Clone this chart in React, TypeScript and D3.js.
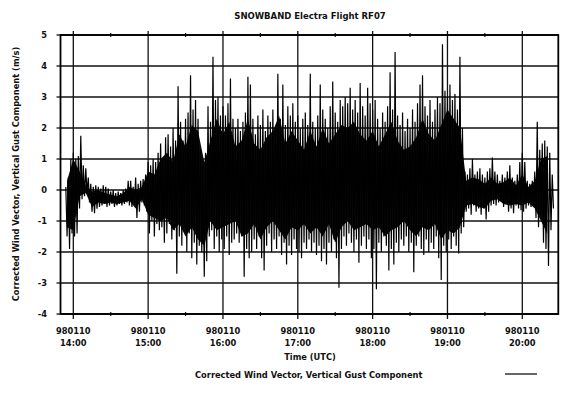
import React, { useEffect, useRef } from "react";
import * as d3 from "d3";

const chartTitle = "SNOWBAND Electra Flight RF07";
const yTitle = "Corrected Wind Vector, Vertical Gust Component (m/s)";
const xTitle = "Time (UTC)";
const seriesName = "Corrected Wind Vector, Vertical Gust Component";
const dateLabel = "980110";
const hourTicks = ["14:00", "15:00", "16:00", "17:00", "18:00", "19:00", "20:00"];
const halfHourTicks = ["13:30", "14:30", "15:30", "16:30", "17:30", "18:30", "19:30", "20:30"];
const yTicks = [-4, -3, -2, -1, 0, 1, 2, 3, 4, 5];
const timeWindow = ["13:49:44", "20:28:52"];

// samples every 2 minutes from 13:54, max / min of the gust trace in each
const sampleStart = "13:54";
const sampleStepMin = 2;

const gustHigh = [
  0.1, 0.4, 1.0,
  // 14:00
  1.2, 1.0, 1.1, 1.75, 0.8, 0.7, 0.4, 0.2, 0.1, 0.15, 0.1, 0.05, 0.15, 0.1, 0.05,
  -0.05, 0.0, -0.1, -0.05, -0.1, 0.0, 0.05, 0.3, 0.3, 0.1, 0.4, 0.2, 0.3, 0.35, 0.5,
  // 15:00
  0.9, 0.8, 1.0, 0.9, 1.2, 1.5, 1.0, 1.7, 1.8, 1.4, 2.0, 1.6, 3.35, 2.2, 1.6,
  2.3, 2.5, 3.7, 2.6, 2.9, 2.3, 1.3, 0.8, 1.2, 2.7, 2.2, 4.3, 2.9, 3.0, 2.4,
  // 16:00
  2.7, 2.4, 2.8, 3.6, 2.3, 2.0, 2.3, 1.9, 2.2, 2.5, 3.65, 3.4, 2.3, 1.8, 2.4,
  2.1, 2.6, 1.9, 2.4, 2.2, 2.6, 2.0, 3.75, 2.3, 3.4, 2.1, 2.7, 2.4, 2.8, 2.2,
  // 17:00
  2.4, 2.0, 2.3, 2.5, 2.1, 3.75, 2.2, 2.0, 2.4, 3.4, 2.6, 2.3, 2.0, 2.7, 3.5,
  2.5, 2.2, 2.9, 2.7, 3.0, 2.8, 3.3, 2.6, 2.9, 2.5, 3.45, 2.7, 2.4, 3.3, 2.8,
  // 18:00
  2.6, 2.9, 2.3, 2.0, 2.5, 2.2, 2.7, 3.8, 2.6, 4.45, 2.4, 2.1, 2.5, 1.9, 2.3,
  2.0, 2.6, 2.2, 2.8, 3.4, 3.7, 2.7, 2.4, 2.9, 2.2, 2.6, 3.0, 2.8, 4.7, 3.2,
  // 19:00
  3.0, 3.4, 2.9, 3.1, 2.6, 4.3, 2.0, 0.6, 0.5, 0.7, 1.0, 0.5, 0.6, 0.7, 0.5,
  0.4, 0.6, 0.7, 1.05, 0.6, 0.5, 0.3, 0.5, 0.4, 0.6, 0.8, 0.4, 0.3, 0.5, 0.9,
  // 20:00
  1.2, 0.9, 0.3, 0.2, 0.3, 0.6, 2.2, 1.3, 1.5, 1.6, 1.4, 1.2, 0.5,
];

const gustLow = [
  -1.5, -1.9, -1.4,
  // 14:00
  -1.5, -1.4, -0.6, -0.3, -0.2, -0.1, -0.4, -0.7, -0.75, -0.6, -0.55, -0.5, -0.45, -0.55, -0.5,
  -0.45, -0.55, -0.5, -0.45, -0.5, -0.45, -0.4, -0.5, -0.55, -0.4, -0.9, -0.7, -0.4, -0.5, -0.7,
  // 15:00
  -1.4, -1.0, -1.5, -1.1, -1.3, -1.2, -1.7, -1.4, -1.1, -1.6, -1.3, -2.7, -1.5, -1.8, -1.2,
  -2.0, -1.4, -2.2, -1.7, -2.4, -1.8, -2.0, -2.8, -2.3, -1.5, -1.3, -1.9, -1.5, -2.0, -1.6,
  // 16:00
  -1.9, -1.5, -2.1, -1.7, -1.6, -1.4, -1.7, -1.5, -2.8, -1.9, -2.2, -2.0, -1.6, -1.9, -1.5,
  -2.2, -2.6, -1.8, -1.4, -2.0, -1.6, -1.9, -1.5, -2.1, -1.7, -2.4, -1.8, -2.1, -1.6, -1.9,
  // 17:00
  -2.0, -2.2, -1.7, -1.9, -1.6, -2.0, -1.7, -2.1, -1.8, -2.3, -1.9, -2.4, -1.7, -2.0, -1.6,
  -2.2, -3.15, -1.9, -1.5, -1.8, -1.4, -1.7, -2.0, -1.6, -2.35, -1.8, -1.5, -1.9, -1.6, -2.2,
  // 18:00
  -1.9, -3.2, -1.7, -2.0, -1.5, -1.8, -2.6, -1.9, -2.4, -1.7, -2.0, -1.6, -1.8, -1.5, -2.0,
  -1.7, -2.65, -1.8, -1.5, -1.9, -2.1, -1.6, -2.0, -1.7, -1.9, -1.5, -2.2, -2.9, -1.8, -2.0,
  // 19:00
  -1.6, -1.9, -1.5, -1.8, -2.05, -1.4, -1.2, -0.7, -0.6, -0.8, -0.5, -0.7, -0.6, -0.8, -0.6,
  -0.95, -0.7, -0.5, -0.45, -0.5, -0.4, -0.35, -0.55, -0.4, -0.7, -0.6, -0.75, -0.5, -0.6, -0.65,
  // 20:00
  -0.7, -0.6, -0.5, -0.55, -0.5, -0.9, -1.2, -0.8, -1.7, -1.9, -2.45, -1.3, -0.6,
];

// solid (fully inked) part of the trace, every 5 minutes from 13:55
const coreStart = "13:55";
const coreStepMin = 5;
const coreTop = [
  0.3, 1.0, 0.6, 0.15, -0.05, 0.0, -0.1, -0.15, -0.2, -0.1, 0.1, 0.0, 0.1,
  // 15:00
  0.6, 0.5, 1.0, 1.2, 0.9, 1.8, 1.4, 2.1, 1.9, 0.9, 1.6, 2.3,
  // 16:00
  1.8, 2.2, 1.4, 1.6, 2.3, 1.5, 1.3, 1.7, 1.9, 2.4, 1.5, 1.9,
  // 17:00
  1.6, 1.3, 1.9, 1.4, 2.0, 1.5, 1.8, 2.1, 2.0, 2.2, 1.8, 1.6,
  // 18:00
  1.9, 1.4, 1.8, 2.2, 1.6, 1.3, 1.4, 1.7, 2.3, 1.8, 1.6, 2.1,
  // 19:00
  2.6, 2.3, 2.0, 0.3, 0.4, 0.35, 0.2, 0.4, 0.2, 0.25, 0.4, 0.15,
  // 20:00
  0.5, 0.1, 0.3, 1.0, 1.1,
];
const coreBottom = [
  -1.2, -1.3, -0.2, -0.1, -0.55, -0.4, -0.45, -0.4, -0.45, -0.4, -0.35, -0.6, -0.3,
  // 15:00
  -0.8, -0.9, -1.0, -0.9, -1.3, -1.1, -1.5, -1.2, -1.6, -1.8, -1.0, -1.3,
  // 16:00
  -1.2, -1.1, -1.0, -1.5, -1.4, -1.1, -1.6, -1.2, -1.0, -1.3, -1.6, -1.2,
  // 17:00
  -1.3, -1.1, -1.4, -1.2, -1.5, -1.1, -1.7, -1.2, -1.0, -1.3, -1.2, -1.1,
  // 18:00
  -1.3, -1.2, -1.5, -1.3, -1.2, -1.0, -1.3, -1.5, -1.2, -1.3, -1.1, -1.6,
  // 19:00
  -1.3, -1.4, -1.2, -0.5, -0.45, -0.55, -0.6, -0.35, -0.3, -0.45, -0.5, -0.45,
  // 20:00
  -0.5, -0.4, -0.6, -1.0, -1.4,
];

const FONT = "'DejaVu Sans', sans-serif";

export default function App() {
  const ref = useRef<SVGSVGElement>(null);

  useEffect(() => {
    const svg = d3.select(ref.current);
    svg.selectAll("*").remove();
    const width = 563;
    const height = 394;
    const plot = { left: 60.5, right: 558.3, top: 35, bottom: 314 };
    const hm = d3.timeParse("%H:%M");
    const hms = d3.timeParse("%H:%M:%S");

    const x = d3.scaleTime().domain(timeWindow.map((t) => hms(t))).range([plot.left, plot.right]);
    const y = d3.scaleLinear().domain([-4, 5]).range([plot.bottom, plot.top]);

    svg.append("rect").attr("width", width).attr("height", height).attr("fill", "#fff");

    // grid
    svg.append("g").selectAll("line").data(yTicks).join("line")
      .attr("x1", plot.left).attr("x2", plot.right)
      .attr("y1", (d) => y(d)).attr("y2", (d) => y(d))
      .attr("stroke", "#111").attr("stroke-width", 1.3);
    svg.append("g").selectAll("line").data(hourTicks).join("line")
      .attr("x1", (d) => x(hm(d))).attr("x2", (d) => x(hm(d)))
      .attr("y1", plot.top - 4).attr("y2", plot.bottom + 5)
      .attr("stroke", "#111").attr("stroke-width", 1.3);
    const halves = halfHourTicks.filter((d) => {
      const px = x(hm(d));
      return px > plot.left && px < plot.right;
    });
    [plot.top, plot.bottom].forEach((yy) => {
      svg.append("g").selectAll("line").data(halves).join("line")
        .attr("x1", (d) => x(hm(d))).attr("x2", (d) => x(hm(d)))
        .attr("y1", yy - 2).attr("y2", yy + 2)
        .attr("stroke", "#111").attr("stroke-width", 1.2);
    });
    svg.append("g").selectAll("line").data(yTicks).join("line")
      .attr("x1", plot.left - 4).attr("x2", plot.left)
      .attr("y1", (d) => y(d)).attr("y2", (d) => y(d))
      .attr("stroke", "#111").attr("stroke-width", 1.3);

    // frame
    svg.append("rect")
      .attr("x", plot.left).attr("y", plot.top)
      .attr("width", plot.right - plot.left).attr("height", plot.bottom - plot.top)
      .attr("fill", "none").attr("stroke", "#000").attr("stroke-width", 1.8);

    // solid core
    const c0 = hm(coreStart) as Date;
    const core = coreTop.map((v, i) => ({
      t: d3.timeMinute.offset(c0, i * coreStepMin), top: v, bot: coreBottom[i],
    }));
    const area = d3.area<{ t: Date; top: number; bot: number }>()
      .x((d) => x(d.t)).y0((d) => y(d.bot)).y1((d) => y(d.top));
    svg.append("path").attr("d", area(core)).attr("fill", "#0a0a0a");

    // trace: alternate max and min of each sample window
    const start = hm(sampleStart) as Date;
    const pts: [Date, number][] = [];
    gustHigh.forEach((h, i) => {
      const t0 = d3.timeMinute.offset(start, i * sampleStepMin);
      pts.push([t0, h]);
      pts.push([d3.timeSecond.offset(t0, sampleStepMin * 30), gustLow[i]]);
    });
    const line = d3.line<[Date, number]>().x((d) => x(d[0])).y((d) => y(d[1]));
    svg.append("path").attr("d", line(pts)).attr("fill", "none")
      .attr("stroke", "#000").attr("stroke-width", 1.2).attr("stroke-linejoin", "miter");

    const txt = (sel: any, size: number) =>
      sel.attr("font-family", FONT).attr("font-weight", "bold").attr("font-size", size).attr("fill", "#111");

    // y tick labels
    txt(svg.append("g").selectAll("text").data(yTicks).join("text")
      .attr("x", 47).attr("y", (d) => y(d)).attr("dy", "0.36em")
      .attr("text-anchor", "end").text((d) => d), 8.3);

    // x tick labels
    const xl = svg.append("g").selectAll("g").data(hourTicks).join("g")
      .attr("transform", (d) => `translate(${x(hm(d))},0)`);
    txt(xl.append("text").attr("y", 333.7).attr("text-anchor", "middle").text(dateLabel), 8.3);
    txt(xl.append("text").attr("y", 345.7).attr("text-anchor", "middle").text((d) => d), 8.3);

    txt(svg.append("text").attr("x", 310).attr("y", 18.5).attr("text-anchor", "middle").text(chartTitle), 8.5);
    txt(svg.append("text").attr("x", 310).attr("y", 360).attr("text-anchor", "middle").text(xTitle), 8.3);
    txt(svg.append("text").attr("transform", "translate(18.5,174) rotate(-90)")
      .attr("text-anchor", "middle").text(yTitle), 8.3);

    // legend
    txt(svg.append("text").attr("x", 195).attr("y", 377.5).text(seriesName), 8.3);
    svg.append("line").attr("x1", 505).attr("x2", 537).attr("y1", 374).attr("y2", 374)
      .attr("stroke", "#000").attr("stroke-width", 1.2);
  }, []);

  return (
    <div style={{ position: "absolute", left: 0, top: 0 }}>
      <svg ref={ref} width={563} height={394} style={{ display: "block" }} />
    </div>
  );
}
